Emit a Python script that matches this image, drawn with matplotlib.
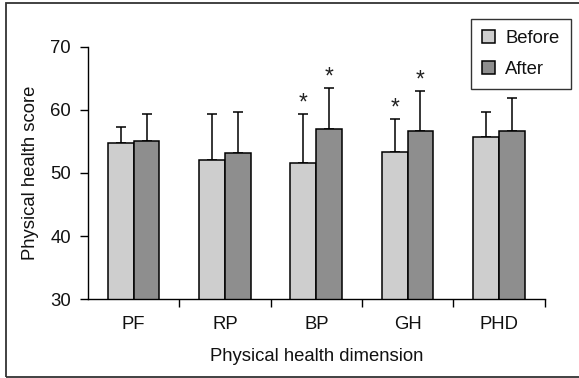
import matplotlib
matplotlib.use("Agg")
import matplotlib.pyplot as plt
from matplotlib.patches import Rectangle
import numpy as np

plt.rcParams['font.family'] = ['Liberation Sans', 'DejaVu Sans']

categories = ["PF", "RP", "BP", "GH", "PHD"]
before_mean = [54.8, 52.0, 51.6, 53.4, 55.7]
before_sd = [2.5, 7.4, 7.8, 5.2, 4.0]
after_mean = [55.0, 53.2, 56.9, 56.7, 56.7]
after_sd = [4.4, 6.4, 6.6, 6.3, 5.2]
before_sig = [False, False, True, True, False]
after_sig = [False, False, True, True, False]

fs = 13.3
text_col = "#111111"

fig = plt.figure(figsize=(5.79, 3.78), dpi=100)
W, H = 579, 378
ax = fig.add_axes([88 / W, (H - 299.3) / H, (544.5 - 88) / W, (299.3 - 46.7) / H])

x = np.arange(len(categories)) + 0.5
bw = 0.283
err_kw = dict(ecolor="black", elinewidth=1.1, capsize=3.8, capthick=1.1)

ax.bar(x - bw / 2, before_mean, bw, color="#cecece", edgecolor="black",
       linewidth=1.1, label="Before", zorder=2)
ax.bar(x + bw / 2, after_mean, bw, color="#8e8e8e", edgecolor="black",
       linewidth=1.1, label="After", zorder=2)
ax.errorbar(x - bw / 2, before_mean, yerr=[np.zeros(5), before_sd],
            fmt="none", zorder=1, **err_kw)
ax.errorbar(x + bw / 2, after_mean, yerr=[np.zeros(5), after_sd],
            fmt="none", zorder=1, **err_kw)

# significance markers above the error bars
for i in range(len(categories)):
    if before_sig[i]:
        ax.text(x[i] - bw / 2, before_mean[i] + before_sd[i] - 0.1, "*",
                ha="center", va="bottom", fontsize=fs + 3, color="#222222")
    if after_sig[i]:
        ax.text(x[i] + bw / 2, after_mean[i] + after_sd[i] - 0.1, "*",
                ha="center", va="bottom", fontsize=fs + 3, color="#222222")

ax.set_xlim(0, 5)
ax.set_ylim(30, 70)
ax.set_yticks([30, 40, 50, 60, 70])
ax.tick_params(axis="y", direction="out", length=5.8, width=1.0,
               labelsize=fs, pad=6.5, labelcolor=text_col)

# boundary ticks between categories, labels centred under each group
ax.set_xticks([1, 2, 3, 4, 5])
ax.set_xticklabels([])
ax.set_xticks(x, minor=True)
ax.set_xticklabels(categories, minor=True)
ax.tick_params(axis="x", which="major", direction="out", length=5.5, width=1.0)
ax.tick_params(axis="x", which="minor", length=0, pad=12,
               labelsize=fs, labelcolor=text_col)

for s in ["top", "right"]:
    ax.spines[s].set_visible(False)
for s in ["left", "bottom"]:
    ax.spines[s].set_linewidth(1.0)

ax.set_xlabel("Physical health dimension", fontsize=fs, color=text_col)
ax.xaxis.set_label_coords(0.5, -0.228)
ax.xaxis.label.set_va("center")
ax.set_ylabel("Physical health score", fontsize=fs, color=text_col)
ax.yaxis.set_label_coords(-0.127, 0.5)
ax.yaxis.label.set_va("center")

leg = ax.legend(loc="upper right", bbox_to_anchor=(570.7 / W, (H - 19.3) / H),
                bbox_transform=fig.transFigure, fontsize=fs, frameon=True,
                fancybox=False, edgecolor="black", handlelength=0.7,
                handleheight=0.7, handletextpad=0.55, borderpad=0.6,
                labelspacing=0.75, borderaxespad=0)
leg.get_frame().set_linewidth(1.0)
for t in leg.get_texts():
    t.set_color(text_col)

# outer frame around the whole figure
fig.patches.append(Rectangle((5.5 / W, 1.5 / H), 1.2, (376.5 - 2.7) / H,
                             transform=fig.transFigure, fill=False,
                             edgecolor="#333333", linewidth=1.3))

fig.savefig("out.png", dpi=100)
